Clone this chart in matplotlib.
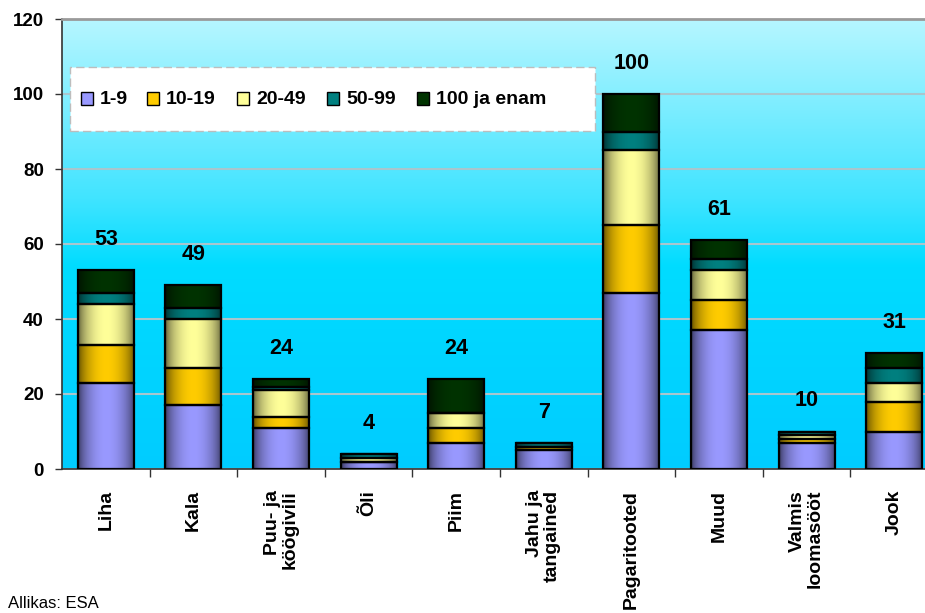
import numpy as np
import matplotlib
matplotlib.use("Agg")
import matplotlib.pyplot as plt
from matplotlib.patches import Rectangle
from matplotlib.colors import to_rgb

plt.rcParams['font.family'] = ['Liberation Sans', 'DejaVu Sans']

# Product groups and number of enterprises by employee size class
categories = ["Liha", "Kala", "Puu- ja\nköögivili", "Õli", "Piim",
              "Jahu ja\ntangained", "Pagaritooted", "Muud",
              "Valmis\nloomasööt", "Jook"]
size_classes = ["1-9", "10-19", "20-49", "50-99", "100 ja enam"]

emp_1_9 = [23, 17, 11, 2, 7, 5, 47, 37, 7, 10]
emp_10_19 = [10, 10, 3, 0, 4, 1, 18, 8, 1, 8]
emp_20_49 = [11, 13, 7, 1, 4, 0, 20, 8, 1, 5]
emp_50_99 = [3, 3, 1, 1, 0, 1, 5, 3, 1, 4]
emp_100 = [6, 6, 2, 0, 9, 0, 10, 5, 0, 4]

yticks = [0, 20, 40, 60, 80, 100, 120]
source_text = "Allikas: ESA"

series = [emp_1_9, emp_10_19, emp_20_49, emp_50_99, emp_100]
colors = ["#9999FF", "#FFCC00", "#FFFF99", "#008080", "#003300"]

W, H = 925, 613
fig = plt.figure(figsize=(W / 100, H / 100), dpi=100)
fig.patch.set_facecolor("white")

left, right, top, bottom = 62, 938, 19, 469
ax = fig.add_axes([left / W, 1 - bottom / H, (right - left) / W, (bottom - top) / H])

# vertical background gradient (light cyan at top, saturated cyan below)
stops_pos = [0.0, 0.45, 0.6, 1.0]
stops_col = [to_rgb("#00CCFF"), to_rgb("#00DCFF"), to_rgb("#40E4FF"), to_rgb("#B6F6FF")]
yy = np.linspace(0, 1, 256)
grad = np.zeros((256, 1, 3))
for c in range(3):
    grad[:, 0, c] = np.interp(yy, stops_pos, [s[c] for s in stops_col])
ax.imshow(grad, extent=[0, 1, 0, 1], origin="lower", aspect="auto",
          transform=ax.transAxes, zorder=-1, interpolation="bilinear")

x = np.arange(len(categories))
width = 0.64
bottoms = np.zeros(len(categories))

# horizontal shading profile across each bar
t = np.linspace(0, 1, 64)
profile = 0.42 + 0.58 * np.sin(np.pi * np.clip(t * 1.04 - 0.02, 0, 1)) ** 0.65

for vals, col in zip(series, colors):
    vals = np.asarray(vals, dtype=float)
    bars = ax.bar(x, vals, width, bottom=bottoms, facecolor="none",
                  edgecolor="black", linewidth=1.6, zorder=3)
    base = np.array(to_rgb(col))
    shade = np.clip(profile[None, :, None] * base[None, None, :], 0, 1)
    for b in bars:
        if b.get_height() <= 0:
            continue
        x0, y0 = b.get_x(), b.get_y()
        ax.imshow(shade, extent=[x0, x0 + b.get_width(), y0, y0 + b.get_height()],
                  aspect="auto", zorder=2, interpolation="bilinear")
    bottoms += vals

# totals above bars
for xi, tot in zip(x, bottoms):
    ax.annotate(f"{int(round(tot))}", xy=(xi, tot), xytext=(0, 22),
                textcoords="offset points", ha="center", va="center",
                fontsize=15.5, fontweight="bold", zorder=4)

ax.set_xlim(-0.5, len(categories) - 0.5)
ax.set_ylim(0, 120)

ax.set_yticks(yticks)
ax.set_yticklabels([str(v) for v in yticks], fontsize=13.5, fontweight="bold")
ax.tick_params(axis="y", direction="out", length=5, width=1, pad=8, color="#333333")

ax.set_xticks(x)
ax.set_xticklabels(categories, rotation=90, fontsize=14, fontweight="bold",
                   va="top", ha="center", multialignment="right",
                   linespacing=1.05)
ax.tick_params(axis="x", which="major", length=0, pad=15)
ax.set_xticks(np.arange(0.5, len(categories) - 0.5, 1), minor=True)
ax.tick_params(axis="x", which="minor", direction="out", length=6, width=1, color="#333333")

ax.set_axisbelow(True)
ax.grid(axis="y", color="#A9C6CE", linewidth=1.5)
ax.grid(axis="x", visible=False)

ax.spines["right"].set_visible(False)
ax.spines["top"].set_color("#9A9A9A")
ax.spines["top"].set_linewidth(2)
ax.spines["left"].set_color("#333333")
ax.spines["bottom"].set_color("#333333")
ax.spines["left"].set_linewidth(1.2)
ax.spines["bottom"].set_linewidth(1.2)


def fx(px):
    return px / W


def fy(py):
    return 1 - py / H


# legend box
fig.add_artist(Rectangle((fx(70), fy(131)), fx(595) - fx(70), (131 - 67) / H,
                         transform=fig.transFigure, facecolor="white",
                         edgecolor="#BDBDBD", linewidth=1, linestyle=(0, (6, 3)),
                         zorder=5))
sq_x = [81, 147, 237, 327, 417]
for sx, lab, col in zip(sq_x, size_classes, colors):
    fig.add_artist(Rectangle((fx(sx), fy(105)), 12 / W, 13 / H,
                             transform=fig.transFigure, facecolor=col,
                             edgecolor="black", linewidth=1, zorder=6))
    fig.text(fx(sx + 19), fy(99), lab, fontsize=14, fontweight="bold",
             ha="left", va="center", zorder=6)

fig.text(fx(8), fy(611), source_text, fontsize=12, ha="left", va="bottom")

fig.savefig("out.png", dpi=100)
